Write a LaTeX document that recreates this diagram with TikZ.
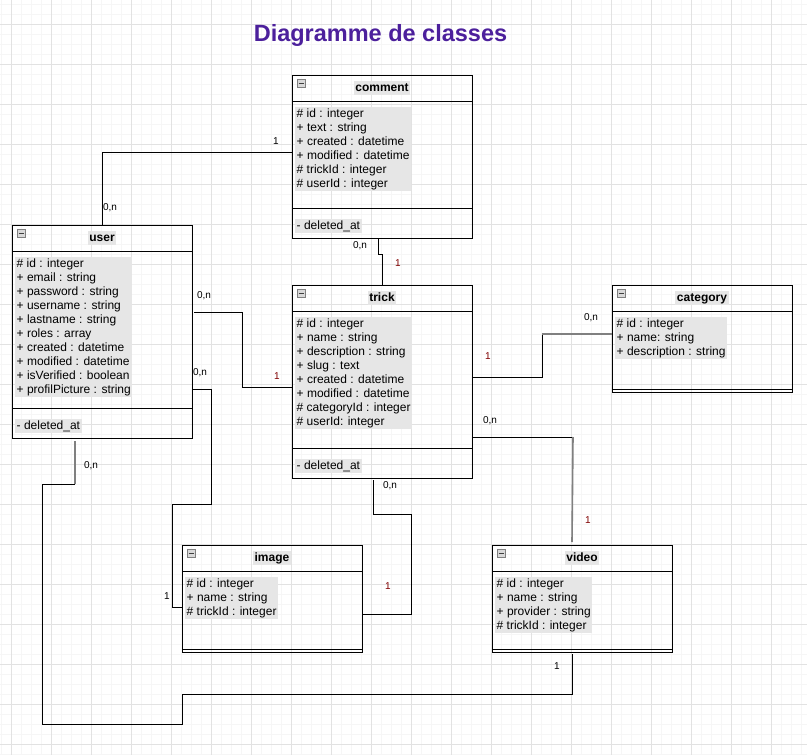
\documentclass[tikz,border=0pt]{standalone}
\usepackage{fontspec}
\setmainfont{Liberation Sans}
\usetikzlibrary{calc,fit}

\definecolor{titlepurple}{RGB}{76,32,156}
\definecolor{attrgray}{RGB}{230,230,230}
\definecolor{darkcard}{RGB}{128,0,0}
\definecolor{gridlight}{RGB}{246,246,246}
\definecolor{gridstrong}{RGB}{226,226,226}

\tikzset{
  gridminor/.style={draw=gridlight, line width=1pt},
  gridmajor/.style={draw=gridstrong, line width=1pt},
  titletext/.style={anchor=base, text=titlepurple, font=\bfseries\fontsize{23.5}{27}\selectfont},
  classframe/.style={draw, line width=1pt, inner sep=0pt, outer sep=0pt},
  classline/.style={line width=1pt},
  classtitle/.style={fill=attrgray, font=\bfseries\fontsize{12}{14}\selectfont,
    inner xsep=1.5pt, inner ysep=0pt, text height=10.5pt, text depth=3.5pt},
  attrs/.style={fill=attrgray, anchor=north west, inner xsep=1.5pt, inner ysep=0pt,
    font=\fontsize{12}{14}\selectfont},
  minusicon/.style={draw=gray, fill=gray!30, line width=0.8pt, minimum size=8pt, inner sep=0pt},
  minusbar/.style={line width=1pt, black!75},
  link/.style={line width=1pt},
  bendseg/.style={draw=gray, line width=1.6pt},
  card/.style={font=\fontsize{10}{12}\selectfont, inner sep=0pt},
  cardred/.style={card, text=darkcard},
}

% #1 name, #2 left, #3 top, #4 separator, #5 bottom, #6 title, #7 attributes, #8 methods
\newcommand{\umlclass}[8]{%
  \node[classframe, fit={(#2,#3) (#2+180,#5)}] (#1) {};
  \draw[classline] (#2,#3+26) -- ++(180,0);
  \draw[classline] (#2,#4) -- ++(180,0);
  \node[minusicon] (#1-icon) at (#2+9,#3+8.5) {};
  \draw[minusbar] (#2+6.5,#3+8.5) -- ++(5,0);
  \node[classtitle] (#1-title) at (#2+90,#3+13) {#6};
  \node[attrs] (#1-attrs) at (#2+3,#3+32) {\begin{tabular}{@{}l@{}}#7\end{tabular}};
  \if\relax\detokenize{#8}\relax\else
    \node[attrs] (#1-ops) at (#2+3,#4+11) {\begin{tabular}{@{}l@{}}#8\end{tabular}};
  \fi
}

\begin{document}
\begin{tikzpicture}[x=1pt, y=-1pt]

  \useasboundingbox (0,0) rectangle (807,755);
  \fill[white] (0,0) rectangle (807,755);
  \foreach \gx in {1,11,...,801} \draw[gridminor] (\gx,0) -- (\gx,755);
  \foreach \gy in {4,14,...,754} \draw[gridminor] (0,\gy) -- (807,\gy);
  \foreach \gx in {11,51,...,771} \draw[gridmajor] (\gx,0) -- (\gx,755);
  \foreach \gy in {24,64,...,744} \draw[gridmajor] (0,\gy) -- (807,\gy);

  \node[titletext] (title) at (380.5,41.5) {Diagramme de classes};

  \umlclass{comment}{292}{75}{208}{238}{comment}
    {\# id : integer\\+ text : string\\+ created : datetime\\+ modified : datetime\\\# trickId : integer\\\# userId : integer}
    {- deleted\_at}
  \umlclass{user}{12}{225}{408}{438}{user}
    {\# id : integer\\+ email : string\\+ password : string\\+ username : string\\+ lastname : string\\+ roles : array\\+ created : datetime\\+ modified : datetime\\+ isVerified : boolean\\+ profilPicture : string}
    {- deleted\_at}
  \umlclass{trick}{292}{285}{448}{478}{trick}
    {\# id : integer\\+ name : string\\+ description : string\\+ slug : text\\+ created : datetime\\+ modified : datetime\\\# categoryId : integer\\\# userId: integer}
    {- deleted\_at}
  \umlclass{category}{612}{285}{389}{392}{category}
    {\# id : integer\\+ name: string\\+ description : string}{}
  \umlclass{image}{182}{545}{649}{652}{image}
    {\# id : integer\\+ name : string\\\# trickId : integer}{}
  \umlclass{video}{492}{545}{649}{652}{video}
    {\# id : integer\\+ name : string\\+ provider : string\\\# trickId : integer}{}

  % associations
  \draw[link] ($(user.north west)+(90,0)$) |- ($(comment.north west)+(0,77)$);
  \draw[link] ($(comment.south west)+(86,0)$) -- ++(0,16) -| (trick.north);
  \draw[link] ($(user.north east)+(2,87)$) -- ++(48,0) |- ($(trick.north west)+(0,102)$);
  \draw[link] ($(user.north east)+(0,164)$) -- ++(19,0) -- ++(0,115) -- ++(-39,0) |- ($(image.north west)+(0,62)$);
  \draw[link] ($(trick.south west)+(81,2)$) -- ++(0,34) -- ++(38,0) |- ($(image.north east)+(0,69)$);
  \draw[link] ($(trick.north east)+(0,152)$) -- ++(101,0) coordinate (tv-bend);
  \draw[bendseg] (tv-bend) -- ($(video.north west)+(80,-3)$);
  \draw[link] ($(trick.north east)+(0,92)$) -- ++(70,0) -- ++(0,-43) coordinate (tc-bend);
  \draw[bendseg] (tc-bend) -- (category.west |- tc-bend);
  \draw[bendseg] ($(user.south west)+(63,3)$) -- ++(0,43) coordinate (uv-bend);
  \draw[link] (uv-bend) -- ++(-33,0) -- ++(0,240) -- ++(140,0) -- ++(0,-30) -| ($(video.south west)+(80,2)$);

  % multiplicities
  \node[card] (uc-many) at (110,208) {0,n};
  \node[card] (uc-one) at (276,141) {1};
  \node[card] (ct-many) at (360,246) {0,n};
  \node[cardred] (ct-one) at (398,263) {1};
  \node[card] (ut-many) at (204,296) {0,n};
  \node[cardred] (ut-one) at (277,376) {1};
  \node[card] (ui-many) at (200,373) {0,n};
  \node[card] (ui-one) at (167,596) {1};
  \node[card] (ti-many) at (390,486) {0,n};
  \node[cardred] (ti-one) at (388,586) {1};
  \node[card] (tv-many) at (490,421) {0,n};
  \node[cardred] (tv-one) at (588,520) {1};
  \node[cardred] (tc-one) at (488,356) {1};
  \node[card] (tc-many) at (591,318) {0,n};
  \node[card] (uv-many) at (91,466) {0,n};
  \node[card] (uv-one) at (557,666) {1};

\end{tikzpicture}
\end{document}
